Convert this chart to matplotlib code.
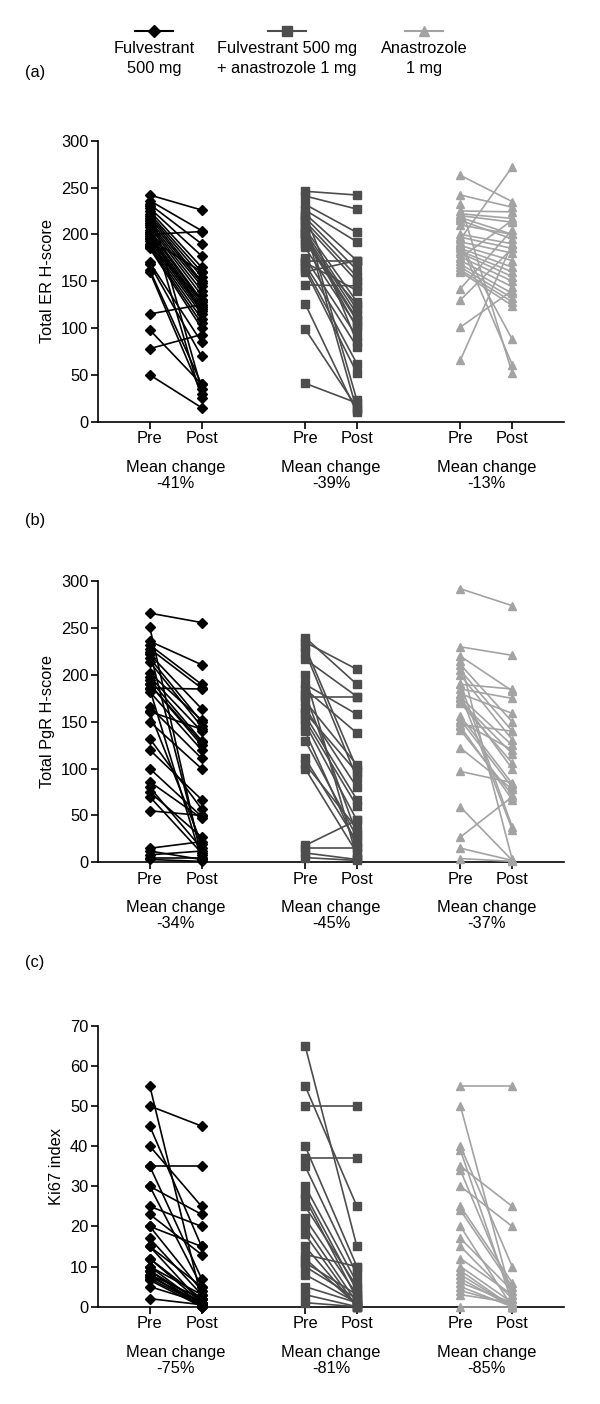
import matplotlib
matplotlib.use("Agg")
import matplotlib.pyplot as plt
from matplotlib.lines import Line2D

plt.rcParams['font.family'] = ['Liberation Sans', 'DejaVu Sans']

groups = ["Fulvestrant\n500 mg", "Fulvestrant 500 mg\n+ anastrozole 1 mg", "Anastrozole\n1 mg"]
group_colors = ["#000000", "#4d4d4d", "#a3a3a3"]
group_markers = ["D", "s", "^"]
time_labels = ["Pre", "Post"]

# Panel (a): Total ER H-score
er_pre_fulv = [242, 236, 232, 228, 225, 222, 220, 218, 215, 212, 210, 208, 205, 203, 200, 198, 196, 193, 190, 188, 186, 185, 170, 168, 162, 160, 115, 98, 78, 50, 230, 214, 200, 195, 188]
er_post_fulv = [226, 204, 190, 177, 165, 160, 155, 150, 148, 145, 140, 135, 130, 128, 125, 122, 120, 118, 115, 110, 105, 100, 85, 70, 40, 30, 125, 40, 93, 15, 35, 25, 203, 160, 130]
er_pre_comb = [246, 241, 232, 226, 222, 218, 214, 210, 206, 203, 200, 197, 194, 186, 175, 172, 168, 165, 162, 160, 146, 126, 99, 41, 215, 208, 190, 170, 200, 220]
er_post_comb = [242, 227, 202, 192, 172, 162, 155, 150, 128, 120, 115, 110, 108, 102, 91, 172, 80, 62, 52, 172, 145, 10, 15, 20, 23, 12, 125, 140, 100, 85]
er_pre_anas = [263, 242, 232, 225, 222, 220, 218, 215, 200, 197, 195, 192, 190, 188, 185, 182, 180, 176, 172, 168, 165, 162, 160, 142, 130, 101, 66, 190, 210, 175]
er_post_anas = [235, 229, 52, 224, 217, 213, 200, 195, 190, 185, 272, 180, 61, 172, 165, 160, 155, 150, 144, 137, 132, 128, 124, 205, 185, 140, 190, 88, 200, 215]
er_changes = ["-41%", "-39%", "-13%"]

# Panel (b): Total PgR H-score
pgr_pre_fulv = [266, 251, 236, 232, 228, 222, 218, 214, 202, 198, 195, 190, 186, 182, 166, 161, 150, 132, 120, 100, 86, 80, 75, 70, 55, 15, 12, 8, 5, 3, 225, 190, 185, 160]
pgr_post_fulv = [256, 5, 211, 190, 186, 164, 150, 145, 152, 140, 130, 125, 185, 120, 111, 142, 100, 57, 67, 49, 47, 15, 27, 10, 50, 22, 3, 12, 5, 1, 8, 128, 3, 20]
pgr_pre_comb = [240, 235, 230, 225, 217, 190, 185, 177, 172, 165, 160, 157, 152, 148, 130, 111, 105, 100, 18, 15, 10, 5, 200, 180, 140]
pgr_post_comb = [190, 206, 100, 90, 177, 158, 138, 177, 104, 80, 96, 67, 60, 45, 27, 22, 36, 10, 45, 15, 3, 2, 5, 30, 17]
pgr_pre_anas = [292, 230, 220, 211, 205, 200, 190, 185, 180, 176, 172, 170, 156, 152, 147, 141, 122, 97, 59, 27, 15, 4, 190, 180, 150, 145, 215, 175]
pgr_post_anas = [274, 221, 183, 150, 140, 131, 185, 175, 159, 125, 116, 106, 84, 80, 140, 72, 78, 85, 2, 70, 2, 1, 38, 35, 120, 67, 3, 100]
pgr_changes = ["-34%", "-45%", "-37%"]

# Panel (c): Ki67 index
ki_pre_fulv = [55, 50, 45, 40, 35, 35, 30, 25, 23, 20, 20, 17, 15, 15, 12, 10, 10, 9, 8, 8, 7.5, 7, 6.6, 5, 2, 30, 12, 9]
ki_post_fulv = [2, 45, 15, 25, 35, 7, 23, 20, 13, 15, 4, 3, 5, 1, 2, 0.5, 3, 1, 0, 2, 1, 0.5, 0, 1, 0.5, 5, 1, 0]
ki_pre_comb = [65, 55, 50, 40, 37, 35, 30, 27, 25, 22, 20, 15, 13, 12, 10, 5, 3, 1, 28, 18, 11, 8]
ki_post_comb = [15, 25, 50, 10, 37, 8, 6, 2, 5, 3, 1, 0, 10, 0.5, 2, 1, 0, 0, 4, 0, 3, 1]
ki_pre_anas = [55, 50, 40, 39, 35, 34, 30, 25, 20, 17, 15, 10, 8, 6, 5, 4, 0, 12, 7, 3, 24, 9]
ki_post_anas = [55, 2, 10, 1, 25, 3, 20, 6, 0, 4, 2, 1, 0, 1, 0, 0.5, 0, 3, 0, 1, 5, 0]
ki_changes = ["-75%", "-81%", "-85%"]

panels = [
    dict(tag="(a)", ylabel="Total ER H-score", ymax=300, yticks=range(0, 301, 50),
         data=[(er_pre_fulv, er_post_fulv), (er_pre_comb, er_post_comb), (er_pre_anas, er_post_anas)],
         changes=er_changes),
    dict(tag="(b)", ylabel="Total PgR H-score", ymax=300, yticks=range(0, 301, 50),
         data=[(pgr_pre_fulv, pgr_post_fulv), (pgr_pre_comb, pgr_post_comb), (pgr_pre_anas, pgr_post_anas)],
         changes=pgr_changes),
    dict(tag="(c)", ylabel="Ki67 index", ymax=70, yticks=range(0, 71, 10),
         data=[(ki_pre_fulv, ki_post_fulv), (ki_pre_comb, ki_post_comb), (ki_pre_anas, ki_post_anas)],
         changes=ki_changes),
]

W, H = 600, 1404
fig = plt.figure(figsize=(W / 100, H / 100), dpi=100)

ax_left = 98 / W
ax_w = (564 - 98) / W
ax_h = 281 / H
bottoms_px = [421.7, 862.3, 1306.7]
tag_y_px = [73, 520, 962]
group_x = [(1, 2), (4, 5), (7, 8)]
fs = 11.8

for p, bpx, tagy in zip(panels, bottoms_px, tag_y_px):
    ax = fig.add_axes([ax_left, 1 - bpx / H, ax_w, ax_h])
    for (pre, post), (x0, x1), c, m in zip(p["data"], group_x, group_colors, group_markers):
        for a, b in zip(pre, post):
            ax.plot([x0, x1], [a, b], color=c, lw=1.2, marker=m,
                    ms=5.5 if m != "D" else 5.2, mec=c, mfc=c, clip_on=False, zorder=3)
    ax.set_xlim(0, 9)
    ax.set_ylim(0, p["ymax"])
    ax.set_yticks(list(p["yticks"]))
    xt = [x for pair in group_x for x in pair]
    ax.set_xticks(xt)
    ax.set_xticklabels(time_labels * 3)
    for s in ["top", "right"]:
        ax.spines[s].set_visible(False)
    for s in ["left", "bottom"]:
        ax.spines[s].set_linewidth(1.2)
    ax.tick_params(direction="out", length=5, width=1.2, labelsize=fs, pad=2)
    ax.set_ylabel(p["ylabel"], fontsize=fs, labelpad=4)
    for (x0, x1), ch in zip(group_x, p["changes"]):
        ax.annotate("Mean change\n" + ch, xy=((x0 + x1) / 2, 0), xycoords=("data", "axes fraction"),
                    xytext=(0, -38), textcoords="offset pixels", ha="center", va="top",
                    fontsize=fs, linespacing=1.08)
    fig.text(35 / W, 1 - tagy / H, p["tag"], fontsize=fs, ha="center", va="center")

# Legend at top
leg_x = [154, 287, 424]
for gx, name, c, m in zip(leg_x, groups, group_colors, group_markers):
    fig.add_artist(Line2D([(gx - 19) / W, (gx + 19) / W], [1 - 30.7 / H] * 2, color=c, lw=1.5,
                          marker=None, transform=fig.transFigure))
    fig.add_artist(Line2D([gx / W], [1 - 30.7 / H], color=c, marker=m, ms=7 if m != "D" else 6.5,
                          mec=c, mfc=c, transform=fig.transFigure))
    fig.text(gx / W, 1 - 41 / H, name, ha="center", va="top", fontsize=fs, linespacing=1.4)

fig.savefig("out.png", dpi=100)
